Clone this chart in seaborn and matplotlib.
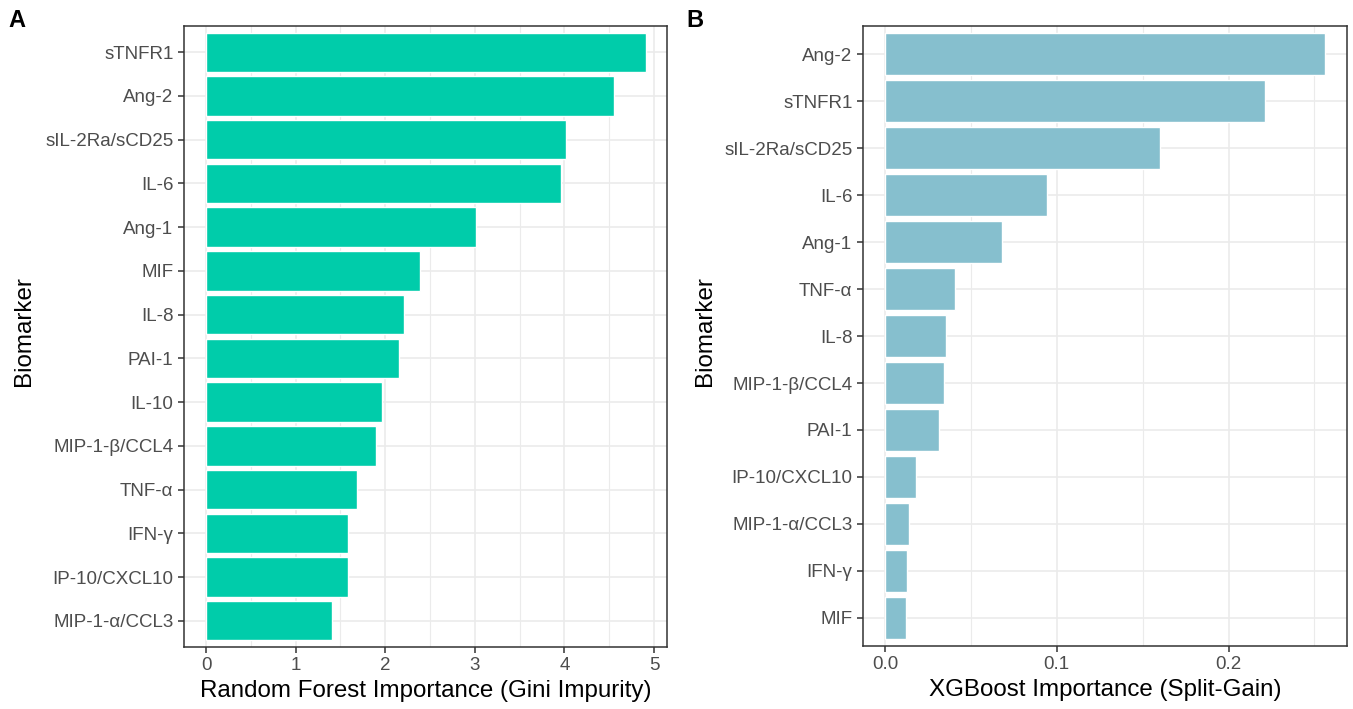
import numpy as np
import pandas as pd
import seaborn as sns
import matplotlib.pyplot as plt
from matplotlib.ticker import MultipleLocator

# Random Forest importance (Gini impurity), panel A
rf_markers = ["sTNFR1", "Ang-2", "sIL-2Ra/sCD25", "IL-6", "Ang-1", "MIF", "IL-8",
              "PAI-1", "IL-10", "MIP-1-β/CCL4", "TNF-α", "IFN-γ", "IP-10/CXCL10",
              "MIP-1-α/CCL3"]
rf_values = [4.91, 4.55, 4.02, 3.96, 3.01, 2.39, 2.21, 2.15, 1.96, 1.90, 1.69,
             1.59, 1.59, 1.41]

# XGBoost importance (split gain), panel B
xgb_markers = ["Ang-2", "sTNFR1", "sIL-2Ra/sCD25", "IL-6", "Ang-1", "TNF-α", "IL-8",
               "MIP-1-β/CCL4", "PAI-1", "IP-10/CXCL10", "MIP-1-α/CCL3", "IFN-γ", "MIF"]
xgb_values = [0.256, 0.221, 0.160, 0.0945, 0.068, 0.041, 0.0357, 0.0345, 0.0316,
              0.0181, 0.0138, 0.0126, 0.0120]

rf = pd.DataFrame({"Biomarker": rf_markers, "Importance": rf_values})
xgb = pd.DataFrame({"Biomarker": xgb_markers, "Importance": xgb_values})

sns.set_theme(style="white")
plt.rcParams["font.family"] = ["Liberation Sans", "DejaVu Sans"]

fig = plt.figure(figsize=(13.53, 7.09), dpi=100)
ax_a = fig.add_axes([0.136, 0.0874, 0.357, 0.876])
ax_b = fig.add_axes([0.6378, 0.0888, 0.3578, 0.8745])

panels = [
    (ax_a, rf, "#00CCAA", "Random Forest Importance (Gini Impurity)", (-0.2455, 5.145), 1, 0.5, 7.5),
    (ax_b, xgb, "#86BFCE", "XGBoost Importance (Split-Gain)", (-0.0128, 0.2690), 0.1, 0.05, 6),
]

for ax, df, col, xlab, xlim, major, minor, ypad in panels:
    ax.set_axisbelow(True)
    sns.barplot(data=df, x="Importance", y="Biomarker", order=df["Biomarker"],
                orient="h", color=col, saturation=1, width=0.9, ax=ax)
    n = len(df)
    ax.set_xlim(*xlim)
    ax.set_ylim(n - 0.4, -0.6)
    ax.xaxis.set_major_locator(MultipleLocator(major))
    ax.xaxis.set_minor_locator(MultipleLocator(minor))
    ax.grid(which="major", axis="both", color="#EBEBEB", lw=1.2)
    ax.grid(which="minor", axis="x", color="#EBEBEB", lw=0.8)
    for s in ax.spines.values():
        s.set_color("#333333")
        s.set_linewidth(1.1)
    ax.tick_params(axis="both", which="major", length=4.5, width=1.1, color="#333333",
                   labelsize=13.5, labelcolor="#4D4D4D", pad=3, left=True, bottom=True)
    ax.tick_params(axis="x", which="minor", length=0)
    ax.set_xlabel(xlab, fontsize=17.4, color="black", labelpad=4)
    ax.set_ylabel("Biomarker", fontsize=17.4, color="black", labelpad=ypad)
    ax.yaxis.label.set_y(0.508)

ax_b.xaxis.set_major_formatter(lambda v, p: f"{v:.1f}")

fig.text(0.006, 0.962, "A", fontsize=17, fontweight="bold", color="black")
fig.text(0.507, 0.962, "B", fontsize=17, fontweight="bold", color="black")

fig.savefig("out.png", dpi=100)
